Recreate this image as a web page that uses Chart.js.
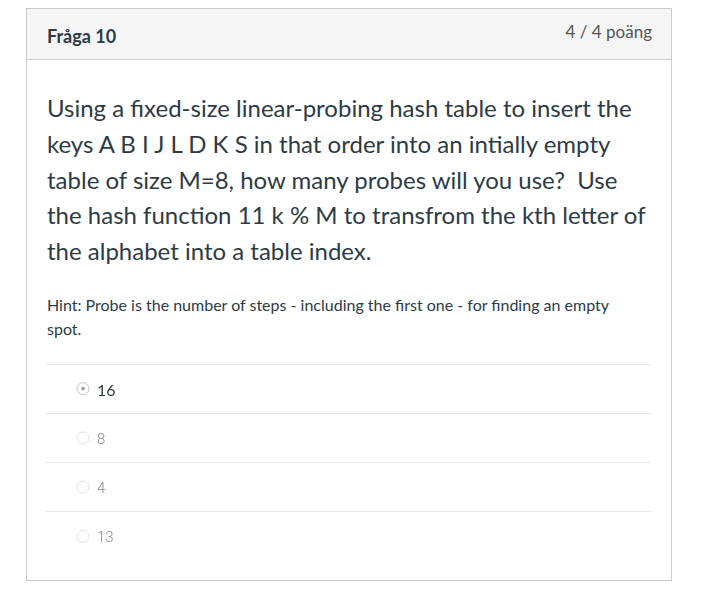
<!DOCTYPE html>
<html>
<head>
<meta charset="utf-8">
<script src="https://cdn.jsdelivr.net/npm/chart.js@4.4.0/dist/chart.umd.min.js"></script>
<style>
  html, body { margin: 0; padding: 0; background: #fff; }
  body { width: 723px; height: 616px; position: relative; font-family: Lato, "Open Sans", sans-serif; color: #2d3b45; }
  #box { position: absolute; left: 26px; top: 8px; width: 644px; height: 571px; border: 1px solid #c7cdd1; }
  #head { position: absolute; left: 0; top: 0; width: 644px; height: 50px; background: #f5f5f5; border-bottom: 1px solid #c7cdd1; }
  #title { position: absolute; left: 20px; top: 15px; font-size: 18px; font-weight: bold; line-height: 24px; }
  #points { position: absolute; right: 19px; top: 11px; font-size: 17px; line-height: 24px; color: #555; }
  #q { position: absolute; left: 20px; top: 81px; width: 610px; font-size: 24px; line-height: 35.8px; }
  #hint { position: absolute; left: 20px; top: 284px; width: 580px; font-size: 16px; line-height: 24px; }
  #c { position: absolute; left: 46px; top: 364px; }
</style>
</head>
<body>
<div id="box">
  <div id="head">
    <div id="title">Fråga 10</div>
    <div id="points">4 / 4 poäng</div>
  </div>
  <div id="q">Using a fixed-size linear-probing hash table to insert the keys A B I J L D K S in that order into an intially empty table of size M=8, how many probes will you use?&nbsp; Use the hash function 11 k % M to transfrom the kth letter of the alphabet into a table index.</div>
  <div id="hint">Hint: Probe is the number of steps - including the first one - for finding an empty spot.</div>
</div>
<canvas id="c" width="605" height="197" style="width:605px;height:197px"></canvas>
<script>
// Answer choices (category labels) and the chosen one
const answers = ['16', '8', '4', '13'];
const chosen = ['16'];

const radioData = answers.map(a => ({ x: 0, y: a }));
const chosenData = chosen.map(a => ({ x: 0, y: a }));

new Chart(document.getElementById('c'), {
  type: 'scatter',
  data: {
    datasets: [
      {
        data: chosenData,
        pointRadius: 1.8,
        pointBackgroundColor: '#9a9a9a',
        pointBorderWidth: 0,
        pointHoverRadius: 1.8
      },
      {
        data: radioData,
        pointRadius: 6,
        pointHoverRadius: 6,
        pointBackgroundColor: '#ffffff',
        pointBorderColor: ctx => chosen.includes(answers[ctx.dataIndex]) ? '#c4c4c4' : '#e2e2e2',
        pointBorderWidth: 1
      }
    ]
  },
  options: {
    responsive: false,
    maintainAspectRatio: false,
    devicePixelRatio: 1,
    animation: false,
    events: [],
    layout: { padding: 0, autoPadding: false },
    plugins: { legend: { display: false }, tooltip: { enabled: false } },
    scales: {
      x: {
        type: 'linear', display: false, min: -1, max: 15.35
      },
      y: {
        type: 'category',
        labels: answers,
        offset: true,
        border: { display: false },
        afterFit: s => { s.width = 0; s.paddingTop = 0; s.paddingBottom = 0; },
        grid: {
          offset: true,
          drawTicks: false,
          color: ctx => (ctx.index < answers.length ? '#e6e6e6' : 'rgba(0,0,0,0)'),
          lineWidth: 1
        },
        ticks: {
          mirror: true,
          padding: 51,
          labelOffset: 2,
          color: ctx => (ctx.index === 0 ? '#2d3b45' : '#8a8a8a'),
          font: ctx => (ctx.index === 0
            ? { family: 'Lato', size: 16, weight: 'normal' }
            : { family: 'Roboto', size: 15, weight: '300' })
        }
      }
    }
  }
});
</script>
</body>
</html>
